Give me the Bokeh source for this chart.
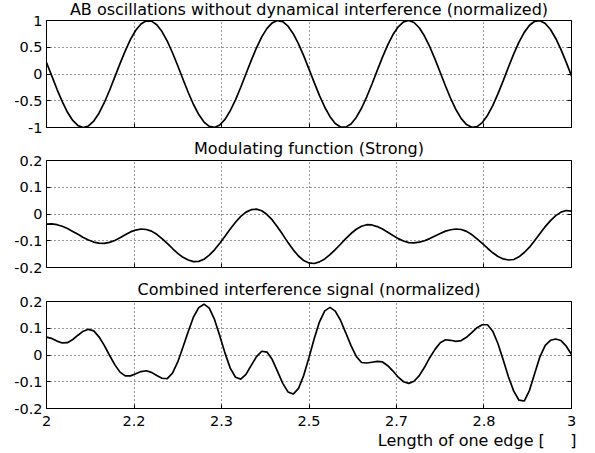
from bokeh.plotting import figure
from bokeh.layouts import column
from bokeh.models import ColumnDataSource, FixedTicker, LinearAxis, Range1d, Title
from bokeh.embed import file_html
from bokeh.resources import INLINE

# ---------------- data ----------------
length = [2.00, 2.01, 2.02, 2.03, 2.04, 2.05, 2.06, 2.07, 2.08, 2.09,
          2.10, 2.11, 2.12, 2.13, 2.14, 2.15, 2.16, 2.17, 2.18, 2.19,
          2.20, 2.21, 2.22, 2.23, 2.24, 2.25, 2.26, 2.27, 2.28, 2.29,
          2.30, 2.31, 2.32, 2.33, 2.34, 2.35, 2.36, 2.37, 2.38, 2.39,
          2.40, 2.41, 2.42, 2.43, 2.44, 2.45, 2.46, 2.47, 2.48, 2.49,
          2.50, 2.51, 2.52, 2.53, 2.54, 2.55, 2.56, 2.57, 2.58, 2.59,
          2.60, 2.61, 2.62, 2.63, 2.64, 2.65, 2.66, 2.67, 2.68, 2.69,
          2.70, 2.71, 2.72, 2.73, 2.74, 2.75, 2.76, 2.77, 2.78, 2.79,
          2.80, 2.81, 2.82, 2.83, 2.84, 2.85, 2.86, 2.87, 2.88, 2.89,
          2.90, 2.91, 2.92, 2.93, 2.94, 2.95, 2.96, 2.97, 2.98, 2.99,
          3.00]

ab_oscillations = [0.216, -0.036, -0.286, -0.517, -0.716, -0.868, -0.965, -1.000, -0.971, -0.880,
                   -0.732, -0.537, -0.308, -0.059, 0.193, 0.433, 0.646, 0.817, 0.935, 0.994,
                   0.989, 0.921, 0.793, 0.615, 0.397, 0.154, -0.099, -0.346, -0.570, -0.758,
                   -0.898, -0.980, -0.999, -0.954, -0.848, -0.687, -0.483, -0.247, 0.004, 0.255,
                   0.490, 0.693, 0.852, 0.956, 0.999, 0.978, 0.894, 0.753, 0.564, 0.338,
                   0.091, -0.162, -0.404, -0.621, -0.798, -0.924, -0.990, -0.993, -0.933, -0.812,
                   -0.640, -0.426, -0.186, 0.067, 0.316, 0.544, 0.737, 0.883, 0.973, 1.000,
                   0.963, 0.864, 0.710, 0.510, 0.278, 0.028, -0.224, -0.462, -0.669, -0.835,
                   -0.946, -0.997, -0.984, -0.908, -0.774, -0.590, -0.368, -0.123, 0.130, 0.375,
                   0.596, 0.778, 0.911, 0.985, 0.997, 0.944, 0.831, 0.664, 0.455, 0.217,
                   -0.035]

modulating = [-0.038, -0.037, -0.040, -0.046, -0.054, -0.065, -0.076, -0.088, -0.097, -0.105,
              -0.109, -0.110, -0.106, -0.099, -0.089, -0.078, -0.067, -0.060, -0.056, -0.058,
              -0.064, -0.076, -0.092, -0.110, -0.129, -0.147, -0.162, -0.172, -0.178, -0.177,
              -0.169, -0.154, -0.134, -0.109, -0.083, -0.056, -0.031, -0.009, 0.007, 0.016,
              0.018, 0.012, -0.002, -0.022, -0.049, -0.077, -0.107, -0.134, -0.157, -0.174,
              -0.183, -0.185, -0.179, -0.168, -0.152, -0.133, -0.113, -0.092, -0.073, -0.057,
              -0.046, -0.040, -0.041, -0.047, -0.056, -0.068, -0.080, -0.092, -0.101, -0.107,
              -0.108, -0.105, -0.100, -0.092, -0.082, -0.073, -0.064, -0.059, -0.056, -0.058,
              -0.065, -0.077, -0.093, -0.110, -0.128, -0.145, -0.159, -0.168, -0.172, -0.170,
              -0.160, -0.144, -0.124, -0.099, -0.073, -0.047, -0.025, -0.006, 0.007, 0.013,
              0.011]

combined = [0.067, 0.062, 0.052, 0.045, 0.046, 0.058, 0.074, 0.089, 0.096, 0.090,
            0.068, 0.036, -0.001, -0.036, -0.064, -0.078, -0.078, -0.070, -0.062, -0.059,
            -0.065, -0.077, -0.087, -0.088, -0.068, -0.026, 0.030, 0.088, 0.142, 0.177,
            0.190, 0.175, 0.133, 0.072, 0.007, -0.049, -0.083, -0.090, -0.072, -0.039,
            -0.006, 0.014, 0.011, -0.017, -0.061, -0.106, -0.138, -0.146, -0.125, -0.076,
            -0.009, 0.062, 0.124, 0.165, 0.178, 0.164, 0.130, 0.083, 0.035, -0.005,
            -0.028, -0.030, -0.027, -0.024, -0.026, -0.040, -0.060, -0.083, -0.100, -0.106,
            -0.098, -0.077, -0.046, -0.010, 0.021, 0.046, 0.057, 0.055, 0.051, 0.054,
            0.066, 0.084, 0.102, 0.113, 0.113, 0.089, 0.042, -0.019, -0.082, -0.135,
            -0.169, -0.172, -0.132, -0.068, -0.006, 0.036, 0.055, 0.060, 0.054, 0.033,
            0.002]

panel_titles = ["AB oscillations without dynamical interference (normalized)",
                "Modulating function (Strong)",
                "Combined interference signal (normalized)"]
x_label = "Length of one edge [\u00a0\u00a0\u00a0\u00a0\u00a0]"

x_ticks = [2.0, 2.1667, 2.3333, 2.5, 2.6667, 2.8333, 3.0]
x_tick_labels = ["2", "2.2", "2.3", "2.5", "2.7", "2.8", "3"]
y_ticks_top = [-1.0, -0.5, 0.0, 0.5, 1.0]
y_tick_labels_top = ["-1", "-0.5", "0", "0.5", "1"]
y_ticks_small = [-0.2, -0.1, 0.0, 0.1, 0.2]
y_tick_labels_small = ["-0.2", "-0.1", "0", "0.1", "0.2"]
y_range_top = (-1.0, 1.0)
y_range_small = (-0.2, 0.2)
x_range = (2.0, 3.0)

FONT = "DejaVu Sans"
TICK_FS = "14.5px"
TITLE_FS = "16px"


def style_axis(ax, ticks, labels, show_labels, standoff=4):
    ax.ticker = FixedTicker(ticks=ticks)
    ax.major_tick_in = 4
    ax.major_tick_out = 0
    ax.minor_tick_line_color = None
    ax.axis_line_color = "black"
    ax.major_tick_line_color = "black"
    ax.major_label_text_font = FONT
    if show_labels:
        ax.major_label_overrides = {t: l for t, l in zip(ticks, labels)}
        ax.major_label_text_font_size = TICK_FS
        ax.major_label_text_color = "black"
        ax.major_label_text_alpha = 1.0
        ax.major_label_standoff = standoff
    else:
        ax.major_label_text_font_size = "0px"
        ax.major_label_text_color = None
        ax.major_label_text_alpha = 0
        ax.major_label_standoff = 0


def make_panel(ys, yrange, yticks, ylabels, title, top, bottom, title_standoff, show_x):
    src = ColumnDataSource(data=dict(x=length, y=ys))
    p = figure(frame_width=525, frame_height=107,
               min_border_left=46, min_border_right=16,
               min_border_top=top, min_border_bottom=bottom,
               x_range=Range1d(*x_range), y_range=Range1d(*yrange),
               output_backend="svg", toolbar_location=None,
               background_fill_color="white", border_fill_color="white")
    p.title.text = title
    p.title.align = "center"
    p.title.text_font = FONT
    p.title.text_font_size = TITLE_FS
    p.title.text_font_style = "normal"
    p.title.text_color = "black"
    p.title.standoff = title_standoff
    p.outline_line_color = "black"
    p.outline_line_width = 1
    p.outline_line_alpha = 1.0

    style_axis(p.xaxis[0], x_ticks, x_tick_labels, show_x, standoff=7)
    style_axis(p.yaxis[0], yticks, ylabels, True)
    right = LinearAxis()
    style_axis(right, yticks, ylabels, False)
    p.add_layout(right, "right")

    for g, t in ((p.xgrid[0], x_ticks), (p.ygrid[0], yticks)):
        g.ticker = FixedTicker(ticks=t)
        g.grid_line_color = "#333333"
        g.grid_line_dash = "1 3"
        g.grid_line_width = 1

    p.line("x", "y", source=src, line_color="black", line_width=1.7)
    return p


p1 = make_panel(ab_oscillations, y_range_top, y_ticks_top, y_tick_labels_top,
                panel_titles[0], 24, 7, 3, False)
p2 = make_panel(modulating, y_range_small, y_ticks_small, y_tick_labels_small,
                panel_titles[1], 26, 8, 5, False)
p3 = make_panel(combined, y_range_small, y_ticks_small, y_tick_labels_small,
                panel_titles[2], 26, 42, 5, True)

p3.add_layout(Title(text=x_label, align="right", offset=-5, standoff=0,
                    text_font=FONT, text_font_size=TITLE_FS,
                    text_font_style="normal", text_color="black"), "below")

layout = column(p1, p2, p3, spacing=0, styles={"margin-top": "-4px"})

open("out.html", "w").write(file_html(layout, INLINE))
